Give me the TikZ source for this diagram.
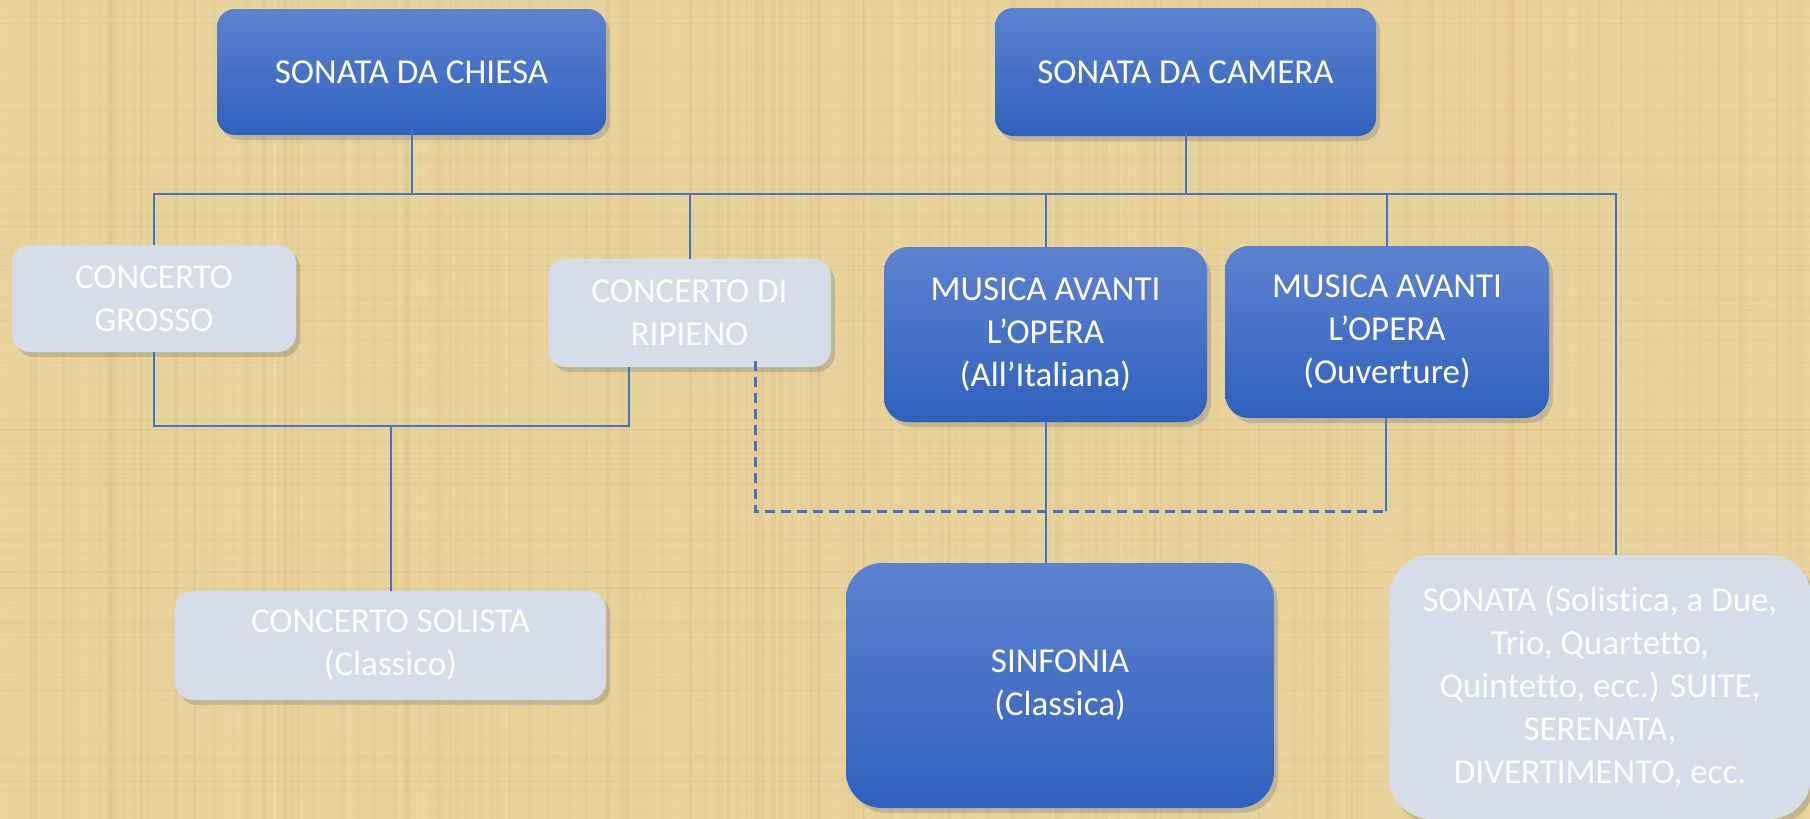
\documentclass[tikz,border=0pt]{standalone}
\usepackage{fontspec}
\setmainfont{Carlito}[Ligatures=NoCommon]
\usetikzlibrary{shadows}
\definecolor{paper}{RGB}{233,211,156}
\definecolor{paperdark}{RGB}{205,175,110}
\definecolor{paperlight}{RGB}{245,228,185}
\definecolor{btop}{RGB}{93,131,207}
\definecolor{bbot}{RGB}{47,97,189}
\definecolor{lightbox}{RGB}{214,221,232}
\definecolor{linecol}{RGB}{68,114,196}
\tikzset{
  box/.style={rounded corners=18pt, inner sep=0pt, align=center, text=white,
    font=\fontsize{35}{43}\selectfont,
    drop shadow={opacity=0.35, shadow xshift=4pt, shadow yshift=-5pt}},
  bluebox/.style={box, top color=btop, bottom color=bbot},
  greybox/.style={box, fill=lightbox},
  conn/.style={draw=linecol, line width=2pt},
  dconn/.style={draw=linecol, line width=3pt, dash pattern=on 10pt off 6pt}
}
\begin{document}
\begin{tikzpicture}[x=1pt, y=-1pt]
\useasboundingbox (0,0) rectangle (1810,819);
\begin{scope}
\clip (0,0) rectangle (1810,819);
\fill[paper] (0,0) rectangle (1810,819);
\pgfmathsetseed{7}
\foreach \i in {0,...,450}{
  \pgfmathsetmacro{\xx}{rnd*1810}
  \pgfmathsetmacro{\ww}{1+rnd*3}
  \pgfmathsetmacro{\op}{0.05+rnd*0.09}
  \pgfmathsetmacro{\c}{rnd}
  \ifdim\c pt<0.5pt
    \fill[paperdark, opacity=\op] (\xx,0) rectangle ++(\ww,819);
  \else
    \fill[paperlight, opacity=\op] (\xx,0) rectangle ++(\ww,819);
  \fi
}
\foreach \i in {0,...,160}{
  \pgfmathsetmacro{\yy}{rnd*819}
  \pgfmathsetmacro{\op}{0.04+rnd*0.07}
  \fill[paperdark, opacity=\op] (0,\yy) rectangle ++(1810,1.5);
}

\node[bluebox, minimum width=389pt, minimum height=126pt] (chiesa) at (411.5,72) {SONATA DA CHIESA};
\node[bluebox, minimum width=381pt, minimum height=128pt] (camera) at (1185.5,72) {SONATA DA CAMERA};
\node[greybox, minimum width=284pt, minimum height=107pt] (grosso) at (154,298.5) {CONCERTO\\GROSSO};
\node[greybox, minimum width=283pt, minimum height=108pt] (ripieno) at (689.5,313) {CONCERTO DI\\RIPIENO};
\node[bluebox, minimum width=323pt, minimum height=175pt, rounded corners=24pt] (mus1) at (1045.5,334.5) {MUSICA AVANTI\\L’OPERA\\(All’Italiana)};
\node[bluebox, minimum width=324pt, minimum height=172pt, rounded corners=24pt] (mus2) at (1387,332) {MUSICA AVANTI\\L’OPERA\\(Ouverture)};
\node[greybox, minimum width=431pt, minimum height=109pt] (solista) at (390.5,645.5) {CONCERTO SOLISTA\\(Classico)};
\node[bluebox, minimum width=428pt, minimum height=245pt, rounded corners=36pt] (sinfonia) at (1060,685.5) {SINFONIA\\(Classica)};
\node[greybox, minimum width=422pt, minimum height=264pt, rounded corners=42pt] (sonata) at (1600,687) {SONATA (Solistica, a Due,\\Trio, Quartetto,\\Quintetto, ecc.) SUITE,\\SERENATA,\\DIVERTIMENTO, ecc.};

\coordinate (busL) at (154,194);
\coordinate (busR) at (1616,194);
\draw[conn] (grosso.north) -- (busL) -- (busR) -- (busR |- sonata.north);
\draw[conn] ([yshift=5pt]chiesa.south) -- (chiesa.south |- busL);
\draw[conn] ([yshift=4pt]camera.south) -- (camera.south |- busL);
\draw[conn] (ripieno.north) -- (ripieno.north |- busL);
\draw[conn] (mus1.north) -- (mus1.north |- busL);
\draw[conn] (mus2.north) -- (mus2.north |- busL);

\coordinate (jL) at (154,426);
\coordinate (jR) at (629,426);
\draw[conn] (grosso.south) -- (jL) -- (jR) -- (jR |- ripieno.south);
\draw[conn] (solista.north) -- (solista.north |- jL);

\coordinate (dA) at (755,511);
\coordinate (dB) at (1386,511);
\draw[dconn] ([yshift=6pt]dA |- ripieno.south) -- (dA) -- (dB);
\draw[conn] (dB) -- (dB |- mus2.south);

\draw[conn] (mus1.south) -- (mus1.south |- sinfonia.north);
\end{scope}
\end{tikzpicture}
\end{document}
